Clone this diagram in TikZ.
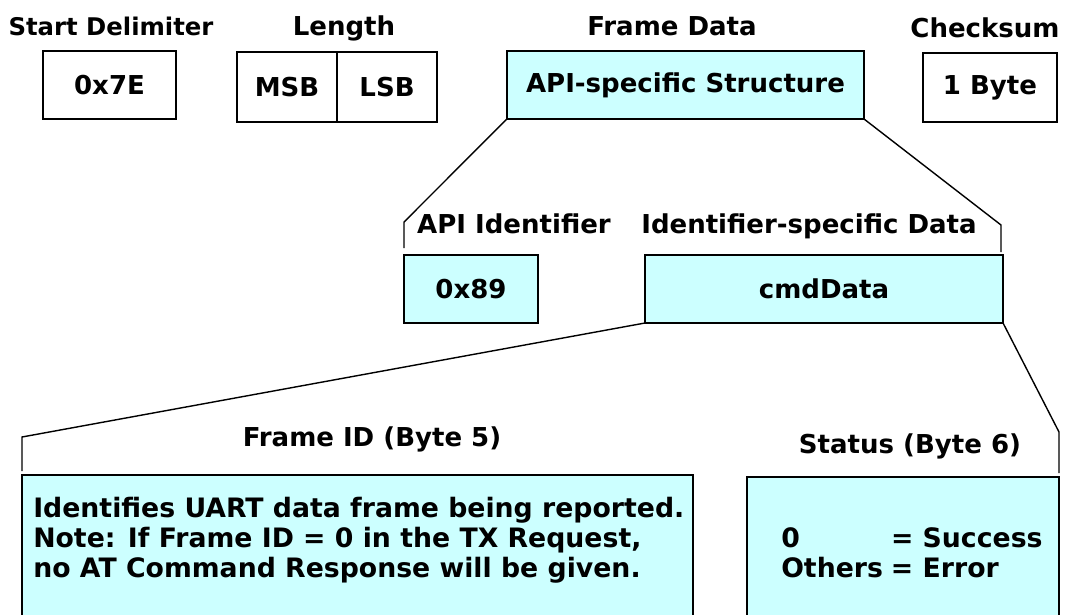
\documentclass[tikz,border=0pt]{standalone}
\usepackage{fontspec}
\setmainfont{DejaVu Sans}
\usepackage{tikz}
\usetikzlibrary{positioning}
\definecolor{cellcyan}{RGB}{204,255,255}

\begin{document}
\begin{tikzpicture}[x=0.025cm,y=-0.025cm]
\tikzset{FieldStyle/.style = {shape          = rectangle,
                              draw,
                              line width     = 1.2pt,
                              inner sep      = 0pt,
                              outer sep      = 0pt,
                              font           = \bfseries\fontsize{18.5}{22}\selectfont},
         CyanStyle/.style  = {FieldStyle, fill = cellcyan},
         TitleStyle/.style = {inner sep = 0pt, anchor = base,
                              font = \bfseries\fontsize{18.5}{22}\selectfont},
         NoteStyle/.style  = {inner sep = 0pt, anchor = north west, align = left,
                              font = \bfseries\fontsize{19}{21.2}\selectfont},
         LinkStyle/.style  = {line width = 1pt}}
     \clip (0,0) rectangle (1068,614);
     \fill[white] (0,0) rectangle (1068,614);
     % top row
     \node[FieldStyle,minimum width=3.325cm,minimum height=1.7cm](SD) at (109.5,85){0x7E};
     \node[FieldStyle,minimum width=2.5cm,minimum height=1.75cm](MSB) at (287,87){MSB};
     \node[FieldStyle,minimum width=2.5cm,minimum height=1.75cm,right=0pt of MSB](LSB){LSB};
     \node[CyanStyle,minimum width=8.925cm,minimum height=1.7cm](API) at (685.5,85){API-specific Structure};
     \node[FieldStyle,minimum width=3.35cm,minimum height=1.725cm](CS) at (990,87.5){1 Byte};
     \node[TitleStyle,font=\bfseries\fontsize{17.3}{22}\selectfont](SDtitle) at (111,35){Start Delimiter};
     \node[TitleStyle](LENtitle) at (344,35){Length};
     \node[TitleStyle](APItitle) at (672,35){Frame Data};
     \node[TitleStyle](CStitle) at (985,37){Checksum};
     % frame data
     \node[CyanStyle,minimum width=3.35cm,minimum height=1.7cm](ID) at (471,289){0x89};
     \node[CyanStyle,minimum width=8.95cm,minimum height=1.7cm](CMD) at (824,289){cmdData};
     \node[TitleStyle](IDtitle) at (514,233){API Identifier};
     \node[TitleStyle](CMDtitle) at (809,233){Identifier-specific Data};
     \coordinate (AL) at (404,222);
     \coordinate (ALend) at (404,248);
     \coordinate (AR) at (1001,225);
     \coordinate (ARend) at (1001,252);
     \draw[LinkStyle](API.south west) -- (AL) -- (ALend);
     \draw[LinkStyle](API.south east) -- (AR) -- (ARend);
     % cmdData
     \node[CyanStyle,minimum width=16.775cm,minimum height=4.125cm](FID) at (357.5,557.5){};
     \node[CyanStyle,minimum width=7.8cm,minimum height=4.075cm](ST) at (903,558.5){};
     \node[TitleStyle](FIDtitle) at (372,446){Frame ID (Byte 5)};
     \node[TitleStyle](STtitle) at (910,453){Status (Byte 6)};
     \node[NoteStyle](FIDtext) at (33,497){Identifies UART data frame being reported.\\
       Note: If Frame ID = 0 in the TX Request,\\
       no AT Command Response will be given.};
     \node[NoteStyle](STtext) at (781,526){\begin{tabular}{@{}l@{\hspace{0.3em}}l@{}}
       0 & = Success\\[0.5pt]
       Others & = Error
     \end{tabular}};
     \coordinate (CL) at (22,437);
     \coordinate (CLend) at (22,471);
     \coordinate (CR) at (1059,432);
     \coordinate (CRend) at (1059,473);
     \draw[LinkStyle](CMD.south west) -- (CL) -- (CLend);
     \draw[LinkStyle](CMD.south east) -- (CR) -- (CRend);
\end{tikzpicture}
\end{document}
